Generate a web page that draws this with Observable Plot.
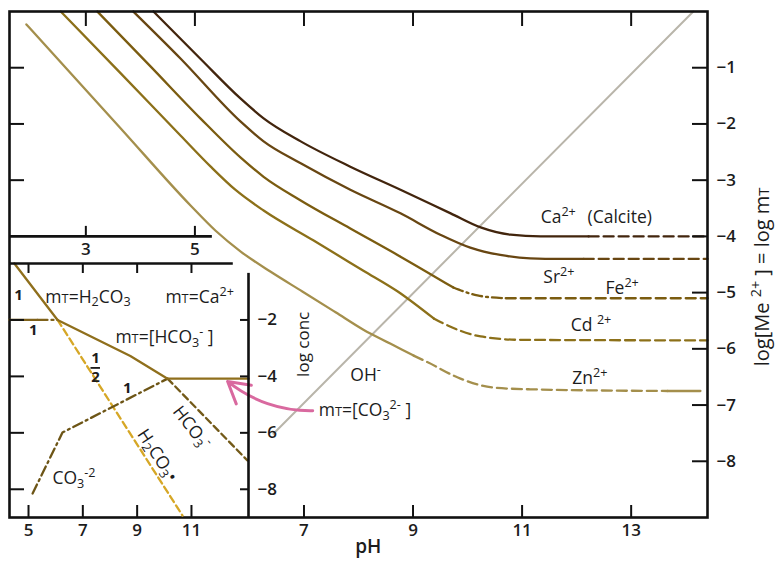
<!DOCTYPE html>
<html>
<head>
<meta charset="utf-8">
<script src="https://cdn.jsdelivr.net/npm/d3@7"></script>
<script src="https://cdn.jsdelivr.net/npm/@observablehq/plot@0.6"></script>
<style>
html,body{margin:0;padding:0;background:#fff;}
#wrap{position:relative;width:777px;height:561px;overflow:hidden;background:#fff;}
#wrap svg{position:absolute;}
</style>
</head>
<body>
<div id="wrap"></div>
<script>
// ---------------- MAIN CHART DATA: log[Me2+] vs pH ----------------
const caPH      = [4.24, 5.10, 5.84, 6.26, 6.94, 7.85, 8.77, 9.69, 10.24, 10.79, 11.34, 12.22];
const caLog     = [0, -0.84, -1.55, -1.90, -2.31, -2.76, -3.17, -3.59, -3.84, -3.97, -4.0, -4.0];
const caDashPH  = [12.22, 14.4];
const caDashLog = [-4.0, -4.0];

const srPH      = [3.87, 4.74, 5.84, 6.26, 6.94, 7.85, 8.77, 9.50, 10.05, 10.60, 11.15, 11.70, 12.13];
const srLog     = [0, -0.84, -1.96, -2.31, -2.70, -3.17, -3.59, -3.97, -4.20, -4.33, -4.39, -4.40, -4.40];
const srDashPH  = [12.13, 14.4];
const srDashLog = [-4.40, -4.40];

const fePH      = [3.21, 4.19, 5.10, 5.84, 6.26, 6.94, 7.85, 8.77, 9.74];
const feLog     = [0, -0.98, -1.90, -2.60, -2.94, -3.36, -3.86, -4.36, -4.91];
const feDotPH   = [9.74, 10.18, 10.70];
const feDotLog  = [-4.91, -5.05, -5.10];
const feDashPH  = [10.70, 14.4];
const feDashLog = [-5.10, -5.10];

const cdPH      = [2.54, 3.64, 4.74, 5.29, 5.74, 6.26, 7.17, 8.09, 8.72, 9.38];
const cdLog     = [0, -1.10, -2.21, -2.76, -3.17, -3.54, -4.07, -4.61, -4.98, -5.46];
const cdDashPH  = [9.38, 9.56, 10.24, 10.97, 14.4];
const cdDashLog = [-5.46, -5.55, -5.78, -5.84, -5.85];

const znPH      = [1.91, 3.64, 4.92, 5.38, 5.84, 6.39, 6.97, 7.58, 8.09, 8.59, 9.01];
const znLog     = [-0.23, -2.08, -3.45, -3.90, -4.27, -4.63, -4.98, -5.35, -5.66, -5.91, -6.12];
const znDashPH  = [9.01, 9.27, 9.87, 10.48, 11.15, 13.67];
const znDashLog = [-6.12, -6.24, -6.53, -6.69, -6.72, -6.75];
const znTailPH  = [13.67, 14.27];
const znTailLog = [-6.75, -6.75];

const ohPH  = [6.44, 14.14];
const ohLog = [-7.51, 0];

const mainXDomain = [1.6, 14.4];
const mainYDomain = [-9, 0];
const mainTopTicks    = [3, 5, 7, 9, 11, 13];
const mainBottomTicks = [7, 9, 11, 13];
const mainRightTicks  = [-1, -2, -3, -4, -5, -6, -7, -8];
const mainLeftTicks   = [-1, -2, -3];
const smallAxisTicks  = [3, 5];

// ---------------- INSET DATA: log conc vs pH ----------------
const mtPH       = [4.48, 6.07, 8.75, 10.12, 13.1];
const mtLog      = [0, -2.0, -3.28, -4.08, -4.08];
const h2FlatPH   = [4.3, 5.33];
const h2FlatLog  = [-2.0, -2.0];
const h2DotPH    = [5.33, 6.07];
const h2DotLog   = [-2.0, -2.0];
const h2co3PH    = [6.07, 10.67];
const h2co3Log   = [-2.0, -8.93];
const co3PH      = [5.15, 6.25, 10.12];
const co3Log     = [-8.15, -5.99, -4.08];
const hco3PH     = [10.12, 13.06];
const hco3Log    = [-4.08, -6.98];

const insetXDomain = [4.3, 13.1];
const insetYDomain = [-9, 0];
const insetXTicks  = [5, 7, 9, 11];
const insetYTicks  = [-2, -4, -6, -8];

// ---------------- ANNOTATIONS ----------------
const metalLabels = [
  {text: "Ca^{2+}", x: 11.34, y: -3.66},
  {text: "(Calcite)", x: 12.20, y: -3.66},
  {text: "Sr^{2+}", x: 11.39, y: -4.73},
  {text: "Fe^{2+}", x: 12.53, y: -4.93},
  {text: "Cd\u00a0^{2+}", x: 11.89, y: -5.59},
  {text: "Zn^{2+}", x: 11.92, y: -6.53},
  {text: "OH^{-}", x: 7.85, y: -6.47},
  {text: "m~{T}=[CO_{3}^{2-}\u00a0]", x: 7.27, y: -7.10}
];
const arrowSpec = [{x1: 7.16, y1: -7.10, x2: 5.60, y2: -6.58}];

const insetLabels = [
  {text: "m~{T}=H_{2}CO_{3}", x: 5.62, y: -1.20},
  {text: "m~{T}=Ca^{2+}", x: 10.04, y: -1.20},
  {text: "m~{T}=[HCO_{3}^{-}\u00a0]", x: 8.20, y: -2.62},
  {text: "CO_{3}^{-2}", x: 5.88, y: -7.62}
];
const slopeLabels = [
  {text: "1", x: 4.63, y: -1.13},
  {text: "1", x: 5.18, y: -2.37},
  {text: "1", x: 7.47, y: -3.37},
  {text: "2", x: 7.47, y: -4.04},
  {text: "1", x: 8.64, y: -4.43}
];
const rotatedInsetLabels = [
  {text: "HCO_{3}^{-}", x: 11.0, y: -5.81, r: 52},
  {text: "H_{2}CO_{3}\u2022", x: 9.75, y: -6.80, r: 57}
];
const rightTitle = {text: "log[Me\u00a0^{2+}\u00a0] = log\u00a0m~{T}", x: 15.41, y: -4.72};
const concTitle  = {text: "log conc", x: 6.99, y: -5.92};
const phTitle    = {text: "pH", x: 8.18};

// ---------------- STYLE ----------------
const FONT = "'Open Sans', 'DejaVu Sans', sans-serif";
const INK = "#1c1c1c";
const LBL = 17.5, TCK = 17;
const fmt = d => (d < 0 ? "\u2212" : "") + Math.abs(d);

const MW = 777, MH = 561, ML = 9, MR = 70, MT = 11, MB = 44;
const mInW = MW - ML - MR, mInH = MH - MT - MB;
const pxPerLog = mInH / (mainYDomain[1] - mainYDomain[0]);

const IW = 300, IH = 311, IL = 9, IR = 52, IT = 13, IB = 44;
const iInW = IW - IL - IR, iInH = IH - IT - IB;

const ln = (xs, ys, o) => Plot.line(xs, {x: xs, y: ys, strokeWidth: 2.3, ...o});
const C = {ca: "#42250d", sr: "#684612", fe: "#7b5c10", cd: "#8c7019", zn: "#a48f4c"};
const DASH = "10,5", DASHDOT = "10,4,2,4";
const SM = "monotone-x";

const mainPlot = Plot.plot({
  width: MW, height: MH,
  marginLeft: ML, marginRight: MR, marginTop: MT, marginBottom: MB,
  x: {domain: mainXDomain, axis: null},
  y: {domain: mainYDomain, axis: null},
  style: {fontFamily: FONT, fontSize: "15px", color: INK, background: "transparent", overflow: "visible"},
  marks: [
    ln(ohPH, ohLog, {stroke: "#b9b5aa", strokeWidth: 2}),
    ln(znPH, znLog, {stroke: C.zn, curve: SM}),
    ln(znDashPH, znDashLog, {stroke: C.zn, curve: SM, strokeDasharray: DASH}),
    ln(znTailPH, znTailLog, {stroke: C.zn}),
    ln(cdPH, cdLog, {stroke: C.cd, curve: SM}),
    ln(cdDashPH, cdDashLog, {stroke: C.cd, curve: SM, strokeDasharray: DASH}),
    ln(fePH, feLog, {stroke: C.fe, curve: SM}),
    ln(feDotPH, feDotLog, {stroke: C.fe, curve: SM, strokeDasharray: DASHDOT}),
    ln(feDashPH, feDashLog, {stroke: C.fe, strokeDasharray: DASH}),
    ln(srPH, srLog, {stroke: C.sr, curve: SM}),
    ln(srDashPH, srDashLog, {stroke: C.sr, strokeDasharray: DASH}),
    ln(caPH, caLog, {stroke: C.ca, curve: SM}),
    ln(caDashPH, caDashLog, {stroke: C.ca, strokeDasharray: DASH}),
    Plot.frame({stroke: "#111", strokeWidth: 2.6}),
    Plot.tickX(mainTopTicks, {x: d => d, insetBottom: mInH - 15, stroke: "#111", strokeWidth: 2}),
    Plot.tickX(mainBottomTicks, {x: d => d, insetTop: mInH - 12, stroke: "#111", strokeWidth: 2}),
    Plot.tickY(mainRightTicks, {y: d => d, insetLeft: mInW - 15, stroke: "#111", strokeWidth: 2}),
    Plot.tickY(mainLeftTicks, {y: d => d, insetRight: mInW - 15, stroke: "#111", strokeWidth: 2}),
    // small partial axis in upper-left
    Plot.ruleY([-4], {x1: () => 1.6, x2: () => 5.32, stroke: "#111", strokeWidth: 2.6}),
    Plot.ruleX(smallAxisTicks, {x: d => d, y1: () => -4, y2: () => -4 + 10 / pxPerLog, stroke: "#111", strokeWidth: 2}),
    Plot.text(smallAxisTicks, {x: d => d, y: () => -4, dy: 13, text: d => String(d), fontSize: TCK, fontWeight: 600, fill: INK}),
    // axis tick labels
    Plot.text(mainBottomTicks, {x: d => d, frameAnchor: "bottom", dy: 18, text: d => fmt(d), fontSize: TCK, fontWeight: 600, fill: INK}),
    Plot.text(mainRightTicks, {y: d => d, frameAnchor: "right", dx: 9, textAnchor: "start", text: d => fmt(d), fontSize: TCK, fontWeight: 600, fill: INK}),
    Plot.text([phTitle], {x: "x", frameAnchor: "bottom", dy: 35, text: "text", fontSize: 19, fontWeight: 600, fill: INK}),
    Plot.text([rightTitle], {x: "x", y: "y", rotate: -90, text: "text", fontSize: 20, fill: INK}),
    Plot.text([concTitle], {x: "x", y: "y", rotate: -90, text: "text", fontSize: 17, fontWeight: 500, fill: INK}),
    Plot.text(metalLabels, {x: "x", y: "y", text: "text", textAnchor: "start", fontSize: LBL, fontWeight: 500, fill: INK}),
    Plot.arrow(arrowSpec, {x1: "x1", y1: "y1", x2: "x2", y2: "y2", bend: 20, stroke: "#d9699f", strokeWidth: 3, headLength: 12})
  ]
});

const insetPlot = Plot.plot({
  width: IW, height: IH,
  marginLeft: IL, marginRight: IR, marginTop: IT, marginBottom: IB,
  x: {domain: insetXDomain, axis: null},
  y: {domain: insetYDomain, axis: null},
  style: {fontFamily: FONT, fontSize: "15px", color: INK, background: "transparent", overflow: "visible"},
  marks: [
    ln(h2co3PH, h2co3Log, {stroke: "#d6a726", strokeDasharray: "7,4"}),
    ln(co3PH, co3Log, {stroke: "#6d5516", strokeDasharray: DASHDOT}),
    ln(hco3PH, hco3Log, {stroke: "#735a19", strokeDasharray: "7,4"}),
    ln(h2FlatPH, h2FlatLog, {stroke: "#7f621b"}),
    ln(h2DotPH, h2DotLog, {stroke: "#7f621b", strokeDasharray: DASHDOT}),
    ln(mtPH, mtLog, {stroke: "#8f6f1c"}),
    // inset borders (left and bottom coincide with main frame)
    Plot.ruleY([0], {x1: () => 4.3, x2: () => 12.54, stroke: "#111", strokeWidth: 2.6}),
    Plot.ruleX([13.1], {y1: () => -0.35, y2: () => -9, stroke: "#111", strokeWidth: 2.6}),
    Plot.tickX(insetXTicks, {x: d => d, insetBottom: iInH - 10, stroke: "#111", strokeWidth: 2}),
    Plot.tickX(insetXTicks, {x: d => d, insetTop: iInH - 12, stroke: "#111", strokeWidth: 2}),
    Plot.tickY(insetYTicks, {y: d => d, insetRight: iInW - 15, stroke: "#111", strokeWidth: 2}),
    Plot.tickY(insetYTicks, {y: d => d, insetLeft: iInW - 8, stroke: "#111", strokeWidth: 2}),
    Plot.text(insetXTicks, {x: d => d, frameAnchor: "bottom", dy: 18, text: d => fmt(d), fontSize: TCK, fontWeight: 600, fill: INK}),
    Plot.text(insetYTicks, {y: d => d, frameAnchor: "right", dx: 9, textAnchor: "start", text: d => fmt(d), fontSize: TCK, fontWeight: 600, fill: INK}),
    Plot.text(insetLabels, {x: "x", y: "y", text: "text", textAnchor: "start", fontSize: LBL, fontWeight: 500, fill: INK}),
    Plot.text(slopeLabels, {x: "x", y: "y", text: "text", fontSize: 15, fontWeight: 700, fill: INK}),
    Plot.ruleY([-3.70], {x1: () => 7.30, x2: () => 7.65, stroke: INK, strokeWidth: 1.8}),
    Plot.text(rotatedInsetLabels, {x: "x", y: "y", text: "text", rotate: "r", fontSize: LBL, fontWeight: 500, fill: INK})
  ]
});

const wrap = document.getElementById("wrap");
mainPlot.style.left = "0px"; mainPlot.style.top = "0px";
insetPlot.style.left = "0px"; insetPlot.style.top = "250px";
wrap.appendChild(mainPlot);
wrap.appendChild(insetPlot);

// rich text: ^{sup}, _{sub}, ~{small caps}
function richify(svg) {
  svg.querySelectorAll("text").forEach(el => {
    const t = el.textContent;
    if (!/[\^_~]\{/.test(t)) return;
    const fs = parseFloat(getComputedStyle(el).fontSize) || 15;
    const parts = t.split(/([\^_~]\{[^}]*\})/).filter(s => s.length);
    while (el.firstChild) el.removeChild(el.firstChild);
    let cur = 0;
    for (const p of parts) {
      const ts = document.createElementNS("http://www.w3.org/2000/svg", "tspan");
      let txt = p, off = 0, size = null;
      if (/^[\^_~]\{/.test(p)) {
        txt = p.slice(2, -1);
        if (p[0] === "^") { off = -0.42 * fs; size = 0.72 * fs; }
        else if (p[0] === "_") { off = 0.2 * fs; size = 0.72 * fs; }
        else { off = 0; size = 0.74 * fs; }
      }
      if (off !== cur) ts.setAttribute("dy", (off - cur).toFixed(2));
      cur = off;
      if (size) ts.setAttribute("font-size", size.toFixed(1));
      ts.textContent = txt;
      el.appendChild(ts);
    }
  });
}
richify(mainPlot);
richify(insetPlot);
</script>
</body>
</html>
